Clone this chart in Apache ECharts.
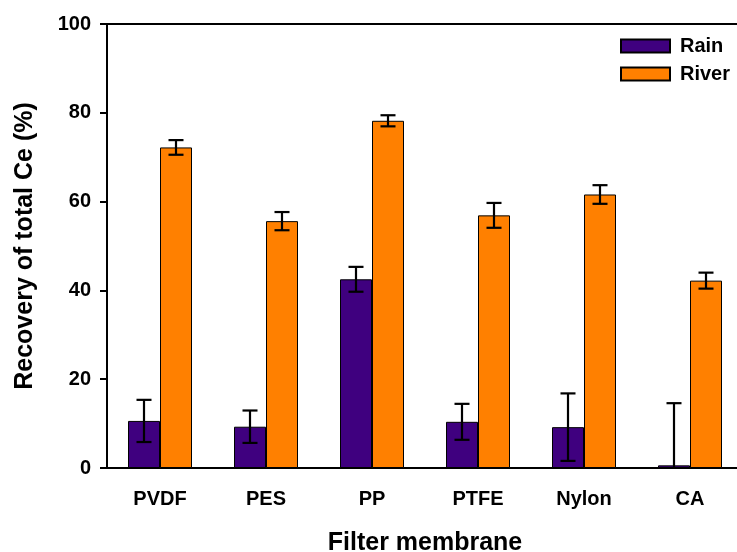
<!DOCTYPE html>
<html>
<head>
<meta charset="utf-8">
<script src="https://cdn.jsdelivr.net/npm/echarts@6/dist/echarts.min.js"></script>
<style>
  html, body { margin: 0; padding: 0; background: #fff; }
  #chart { width: 737px; height: 552px; }
</style>
</head>
<body>
<div id="chart"></div>
<script>
// Recovery of total Ce (%) by filter membrane, mean ± error
const categories = ['PVDF', 'PES', 'PP', 'PTFE', 'Nylon', 'CA'];
const rainMean = [10.6, 9.3, 42.5, 10.4, 9.2, 0.6];
const rainErr = [4.75, 3.65, 2.8, 4.05, 7.6, 14.0];
const riverMean = [72.2, 55.6, 78.2, 56.9, 61.6, 42.2];
const riverErr = [1.65, 2.05, 1.25, 2.8, 2.1, 1.8];
const yTicks = [0, 20, 40, 60, 80, 100];

const BAR_W = 32;
const FONT = 'Liberation Sans, Arial, sans-serif';
const RAIN_COLOR = '#3f007f';
const RIVER_COLOR = '#ff8000';

// error whisker items: [categoryIndex, mean, err]
function errData(mean, err) {
  return mean.map((m, i) => [i, m, err[i]]);
}

function makeErrorRender(offset) {
  return function (params, api) {
    const idx = api.value(0);
    const m = api.value(1);
    const e = api.value(2);
    const hi = api.coord([idx, m + e]);
    const lo = api.coord([idx, m - e]);
    const x = hi[0] + offset;
    const cap = 7.5;
    const style = { stroke: '#000', lineWidth: 2.2 };
    return {
      type: 'group',
      children: [
        { type: 'line', shape: { x1: x, y1: hi[1], x2: x, y2: lo[1] }, style },
        { type: 'line', shape: { x1: x - cap, y1: hi[1], x2: x + cap, y2: hi[1] }, style },
        { type: 'line', shape: { x1: x - cap, y1: lo[1], x2: x + cap, y2: lo[1] }, style }
      ]
    };
  };
}

const chart = echarts.init(document.getElementById('chart'), null, { renderer: 'canvas' });

chart.setOption({
  animation: false,
  backgroundColor: '#fff',
  grid: {
    left: 107, top: 24, bottom: 84, right: -6,
    outerBoundsMode: 'none',
    containLabel: false,
    show: true, borderColor: '#000', borderWidth: 2, backgroundColor: 'transparent'
  },
  legend: {
    orient: 'vertical',
    left: 615, top: 31,
    itemWidth: 49, itemHeight: 13, itemGap: 8,
    icon: 'rect',
    textStyle: { fontFamily: FONT, fontWeight: 'bold', fontSize: 20, color: '#000', padding: [0, 0, 0, 5] },
    data: ['Rain', 'River']
  },
  xAxis: {
    type: 'category',
    data: categories,
    name: 'Filter membrane',
    nameLocation: 'middle',
    nameGap: 63,
    nameTextStyle: { fontFamily: FONT, fontWeight: 'bold', fontSize: 25, color: '#000' },
    axisLine: { lineStyle: { color: '#000', width: 2 } },
    axisTick: { alignWithLabel: true, length: 7, lineStyle: { color: '#000', width: 2 } },
    axisLabel: { fontFamily: FONT, fontWeight: 'bold', fontSize: 20, color: '#000', margin: 21 }
  },
  yAxis: {
    type: 'value',
    min: yTicks[0], max: yTicks[yTicks.length - 1], interval: 20,
    name: 'Recovery of total Ce (%)',
    nameLocation: 'middle',
    nameGap: 69,
    nameTextStyle: { fontFamily: FONT, fontWeight: 'bold', fontSize: 25, color: '#000' },
    splitLine: { show: false },
    axisLine: { show: true, lineStyle: { color: '#000', width: 2 } },
    axisTick: { show: true, length: 7, lineStyle: { color: '#000', width: 2 } },
    axisLabel: { fontFamily: FONT, fontWeight: 'bold', fontSize: 20, color: '#000', margin: 16 }
  },
  series: [
    {
      name: 'Rain', type: 'bar', data: rainMean,
      barWidth: BAR_W, barGap: '0%',
      itemStyle: { color: RAIN_COLOR, borderColor: '#000', borderWidth: 1 }
    },
    {
      name: 'River', type: 'bar', data: riverMean,
      barWidth: BAR_W, barGap: '0%',
      itemStyle: { color: RIVER_COLOR, borderColor: '#000', borderWidth: 1 }
    },
    {
      type: 'custom', data: errData(rainMean, rainErr), z: 5, clip: true,
      renderItem: makeErrorRender(-BAR_W / 2), encode: { x: 0, y: 1 }, silent: true
    },
    {
      type: 'custom', data: errData(riverMean, riverErr), z: 5, clip: true,
      renderItem: makeErrorRender(BAR_W / 2), encode: { x: 0, y: 1 }, silent: true
    }
  ]
});
</script>
</body>
</html>
